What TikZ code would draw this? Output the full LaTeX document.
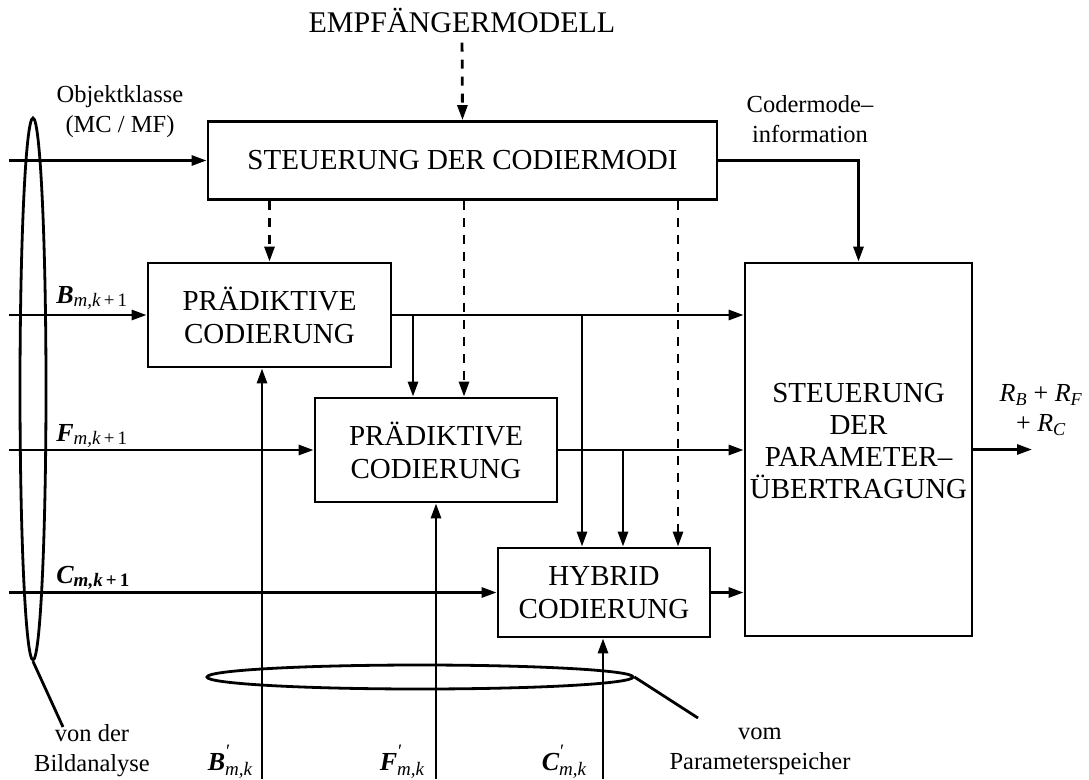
\documentclass[tikz,border=0pt]{standalone}
\usepackage{fontspec}
\setmainfont{Liberation Serif}
\usetikzlibrary{arrows.meta,shapes.geometric}

% type sizes (1pt = one unit of the drawing grid)
\newcommand{\boxfont}{\fontsize{29}{33}\selectfont}
\newcommand{\labfont}{\fontsize{24.5}{30}\selectfont}
\newcommand{\symfont}{\fontsize{26}{30}\selectfont}
\newcommand{\subfont}{\fontsize{19}{19}\selectfont}
% signal names: bold italic letter with subscript
\newcommand{\sig}[2]{{\bfseries\itshape #1}\raisebox{-0.3ex}{\subfont #2}}
\newcommand{\sigbf}[2]{{\bfseries\itshape #1}\raisebox{-0.3ex}{\subfont\bfseries #2}}
% stored signal: prime above, subscript below
\newcommand{\sigp}[2]{{\bfseries\itshape #1}\rlap{\raisebox{1.05ex}{\subfont\kern1pt′}}\raisebox{-0.45ex}{\subfont\itshape #2}}

\begin{document}
\begin{tikzpicture}[x=1pt,y=-1pt,
  line width=2.8pt,
  blk/.style={draw, rectangle, inner sep=0pt, align=center, font=\boxfont},
  lab/.style={inner sep=0pt, align=center, font=\labfont},
  sym/.style={inner sep=0pt, font=\symfont},
  grp/.style={draw, ellipse, inner sep=0pt},
  arr/.style={-{Triangle[length=15pt,width=10pt]}},
  darr/.style={arr, dash pattern=on 9pt off 8pt}]
\useasboundingbox (0,0) rectangle (1089,779);

% blocks
\node[blk, minimum width=509pt, minimum height=78pt] (ctrl) at (462.5,160.5) {STEUERUNG DER CODIERMODI};
\node[blk, minimum width=243pt, minimum height=104pt] (b1) at (269.5,315) {PRÄDIKTIVE\\CODIERUNG};
\node[blk, minimum width=242pt, minimum height=104pt] (b2) at (436,450) {PRÄDIKTIVE\\CODIERUNG};
\node[blk, minimum width=212pt, minimum height=89pt] (hy) at (604,592.5) {HYBRID\\CODIERUNG};
\node[blk, minimum width=227pt, minimum height=373pt, text depth=17pt,
      font=\fontsize{29}{32}\selectfont] (par) at (858.5,449.5) {STEUERUNG\\DER\\PARAMETER–\\ÜBERTRAGUNG};

% labels
\node[lab, font=\fontsize{30}{33}\selectfont] (emp) at (462,20) {EMPFÄNGERMODELL};
\node[lab] (obj) at (120,112) {Objektklasse\\(MC / MF)};
\node[lab] (cmi) at (810,119) {Codermode–\\information};
\node[sym, anchor=west] (lB) at (55,298) {\sig{B}{{\itshape m,k}\,+\,1}};
\node[sym, anchor=west] (lF) at (55,436) {\sig{F}{{\itshape m,k}\,+\,1}};
\node[sym, anchor=west] (lC) at (55,578) {\sigbf{C}{{\itshape m,k}\,+\,1}};
\node[sym] (sB) at (230,762) {\sigp{B}{m,k}};
\node[sym] (sF) at (402,762) {\sigp{F}{m,k}};
\node[sym] (sC) at (564,762) {\sigp{C}{m,k}};
\node[sym, align=center] (rate) at (1041,410) {{\itshape R}\textsubscript{\itshape B} + {\itshape R}\textsubscript{\itshape F}\\+ {\itshape R}\textsubscript{\itshape C}};
\node[lab] (lblL) at (92,751) {von der\\Bildanalyse};
\node[lab] (lblB) at (760,751) {vom\\Parameterspeicher};

% groupings of the input and stored parameters
\node[grp, minimum width=26pt, minimum height=542pt] (grpL) at (33,389) {};
\node[grp, minimum width=426pt, minimum height=24pt] (grpB) at (420,677) {};
\coordinate (lnL) at (63,727);
\coordinate (lnB) at (698,718);
\draw (grpL.south) -- (lnL);
\draw (grpB.east) -- (lnB);

% inputs from the image analysis
\coordinate (iO) at (9,160.5);
\coordinate (iB) at (9,315);
\coordinate (iF) at (9,450);
\coordinate (iC) at (9,592.5);
\draw[arr] (iO) -- (ctrl.west);
\draw[arr] (iB) -- (b1.west);
\draw[arr] (iF) -- (b2.west);
\draw[arr] (iC) -- (hy.west);

% receiver model and coder mode control (dashed)
\draw[darr, shorten <=9pt] (emp.south) -- (ctrl.north);
\draw[darr] (b1.north |- ctrl.south) -- (b1.north);
\draw[darr] (464,0 |- ctrl.south) -- (464,0 |- b2.north);
\draw[darr] (678,0 |- ctrl.south) -- (678,0 |- hy.north);

% coder mode information to parameter transmission
\draw[arr] (ctrl.east) -| (par.north);

% coder outputs
\draw[arr] (b1.east) -- (b1.east -| par.west);
\draw[arr] (b2.east) -- (b2.east -| par.west);
\draw[arr] (hy.east) -- (hy.east -| par.west);
\coordinate (j1) at (413,315);
\coordinate (j2) at (582,315);
\coordinate (j3) at (623,450);
\draw[arr] (j1) -- (j1 |- b2.north);
\draw[arr] (j2) -- (j2 |- hy.north);
\draw[arr] (j3) -- (j3 |- hy.north);

% stored parameters from below
\coordinate (fB) at (262,779);
\coordinate (fF) at (436,779);
\coordinate (fC) at (603,779);
\draw[arr] (fB) -- (fB |- b1.south);
\draw[arr] (fF) -- (fF |- b2.south);
\draw[arr] (fC) -- (fC |- hy.south);

% total rate output
\coordinate (out) at (1032,449.5);
\draw[arr] (par.east) -- (out);
\end{tikzpicture}
\end{document}
